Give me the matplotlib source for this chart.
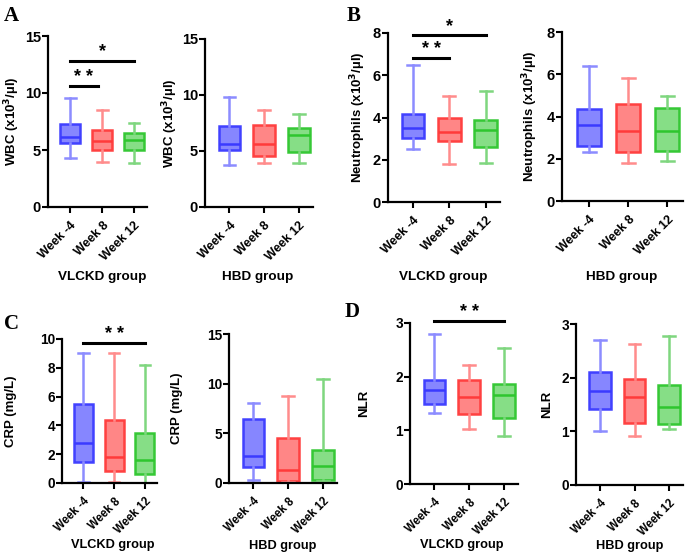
import matplotlib.pyplot as plt
from matplotlib.transforms import ScaledTranslation

plt.rcParams['font.family'] = ['Liberation Sans', 'DejaVu Sans']
plt.rcParams['font.weight'] = 'bold'

weeks = ['Week -4', 'Week 8', 'Week 12']
groups = ['VLCKD group', 'HBD group']

# box stats per week: [whisker low, q1, median, q3, whisker high]
wbc_vlckd = [[4.3, 5.6, 6.15, 7.3, 9.55], [3.95, 5.0, 5.8, 6.75, 8.5], [3.85, 5.0, 5.9, 6.5, 7.4]]
wbc_hbd = [[3.75, 5.05, 5.6, 7.25, 9.85], [3.9, 4.55, 5.6, 7.3, 8.65], [3.9, 4.95, 6.4, 7.05, 8.3]]
neu_vlckd = [[2.5, 3.05, 3.5, 4.15, 6.5], [1.8, 2.9, 3.3, 4.0, 5.0], [1.85, 2.6, 3.4, 3.9, 5.25]]
neu_hbd = [[2.3, 2.6, 3.6, 4.35, 6.4], [1.8, 2.3, 3.3, 4.6, 5.8], [1.9, 2.35, 3.3, 4.4, 4.95]]
crp_vlckd = [[0.08, 1.45, 2.8, 5.5, 9.0], [0.08, 0.85, 1.8, 4.35, 9.0], [0.0, 0.6, 1.6, 3.45, 8.2]]
crp_hbd = [[0.3, 1.6, 2.7, 6.45, 8.1], [0.15, 0.2, 1.35, 4.5, 8.75], [0.2, 0.3, 1.7, 3.3, 10.5]]
nlr_vlckd = [[1.32, 1.5, 1.75, 1.93, 2.8], [1.03, 1.3, 1.63, 1.93, 2.22], [0.9, 1.23, 1.65, 1.87, 2.53]]
nlr_hbd = [[1.0, 1.42, 1.76, 2.1, 2.7], [0.91, 1.16, 1.64, 1.98, 2.63], [1.04, 1.13, 1.46, 1.86, 2.77]]

# significance bars: (from, to, height, label)
wbc_sig = [(0, 0.85, 10.6, '* *'), (0, 2, 12.85, '*')]
neu_sig = [(0, 1, 6.8, '* *'), (0, 2, 7.9, '*')]
crp_sig = [(0, 2, 9.75, '* *')]
nlr_sig = [(0, 2, 3.03, '* *')]

fills = ['#8080ff', '#ff8080', '#80dd80']
edges = ['#3a3aff', '#ff3a3a', '#2ec62e']
whisk = ['#8c8cff', '#ff8c8c', '#7fd67f']

W, H = 685, 560
fig = plt.figure(figsize=(W / 100, H / 100), dpi=100)


def draw(box, data, ymax, ystep, ylabel, ylab_x, tsize, sig=()):
    x0, x1, y0, y1 = box
    ax = fig.add_axes([x0 / W, 1 - y1 / H, (x1 - x0) / W, (y1 - y0) / H])
    stats = []
    for i, d in enumerate(data):
        stats.append(dict(whislo=d[0], q1=d[1], med=d[2], q3=d[3], whishi=d[4], label=weeks[i]))
    bp = ax.bxp(stats, positions=[0, 1, 2], widths=0.62, capwidths=0.33,
                patch_artist=True, showfliers=False)
    for i in range(3):
        bp['boxes'][i].set(facecolor=fills[i], edgecolor=edges[i], linewidth=1.8, alpha=0.95)
        bp['medians'][i].set(color=edges[i], linewidth=1.8)
        for k in (2 * i, 2 * i + 1):
            bp['whiskers'][k].set(color=whisk[i], linewidth=1.8)
            bp['caps'][k].set(color=whisk[i], linewidth=1.8)
    ax.set_xlim(-0.7, 2.4)
    ax.set_ylim(0, ymax)
    ax.set_yticks(range(0, int(ymax) + 1, ystep))
    ax.set_xticks([0, 1, 2])
    ax.set_xticklabels(weeks, rotation=45, ha='right', rotation_mode='anchor', fontsize=tsize)
    shift = ScaledTranslation(4 / 72, 0, fig.dpi_scale_trans)
    for t in ax.get_xticklabels():
        t.set_transform(t.get_transform() + shift)
    ax.tick_params(axis='y', labelsize=tsize + 1.5, width=1.5, length=4, pad=1)
    ax.tick_params(axis='x', width=1.5, length=4, pad=5)
    for s in ('top', 'right'):
        ax.spines[s].set_visible(False)
    for s in ('left', 'bottom'):
        ax.spines[s].set_linewidth(1.6)
    fig.text(ylab_x / W, 1 - (y0 + y1) / 2 / H, ylabel, rotation=90, fontsize=9.5,
             fontweight='bold', ha='center', va='center')
    for a, b, y, lab in sig:
        ax.plot([a, b], [y, y], color='black', linewidth=2.2, clip_on=False)
        ax.annotate(lab, xy=((a + b) / 2, y), xytext=(0, 0), textcoords='offset points',
                    ha='center', va='bottom', fontsize=13, fontweight='bold', annotation_clip=False)
    return ax


wbc_lab = 'WBC (x10$^{\\mathbf{3}}$/µl)'
neu_lab = 'Neutrophils (x10$^{\\mathbf{3}}$/µl)'
draw((48, 147, 36, 207), wbc_vlckd, 15, 5, wbc_lab, 12, 9, wbc_sig)
draw((205, 313, 39, 207), wbc_hbd, 15, 5, wbc_lab, 170, 9)
draw((388, 500, 33, 202), neu_vlckd, 8, 2, neu_lab, 358, 9, neu_sig)
draw((562, 683, 32, 201), neu_hbd, 8, 2, neu_lab, 530, 9)
draw((62, 157, 339, 483), crp_vlckd, 10, 2, 'CRP (mg/L)', 11, 8.3, crp_sig)
draw((229, 337, 334, 483), crp_hbd, 15, 5, 'CRP (mg/L)', 177, 8.3)
draw((410, 518, 323, 484), nlr_vlckd, 3, 1, 'NLR', 364, 8.3, nlr_sig)
draw((576, 683, 324, 485), nlr_hbd, 3, 1, 'NLR', 547, 8.3)

# group captions under each panel
for lab, x, y, fs in [(groups[0], 102, 277, 9.7), (groups[1], 258, 277, 9.7),
                      (groups[0], 443, 277, 9.7), (groups[1], 622, 277, 9.7),
                      (groups[0], 113, 545, 9.2), (groups[1], 283, 546, 9.2),
                      (groups[0], 462, 545, 9.2), (groups[1], 630, 546, 9.2)]:
    fig.text(x / W, 1 - y / H, lab, fontsize=fs, fontweight='bold', ha='center', va='center')

for lab, x, y in [('A', 4, 6), ('B', 347, 6), ('C', 4, 314), ('D', 345, 302)]:
    fig.text(x / W, 1 - y / H, lab, fontsize=15, fontweight='bold', family='Liberation Serif',
             ha='left', va='top')

fig.savefig('out.png', dpi=100)
